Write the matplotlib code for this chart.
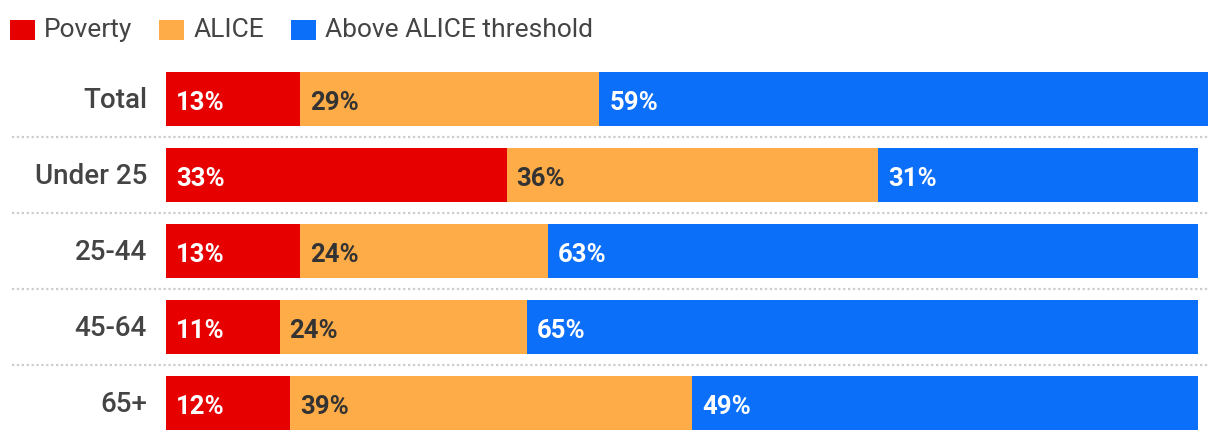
import matplotlib
matplotlib.use("Agg")
import matplotlib.pyplot as plt
from matplotlib.patches import Rectangle
from matplotlib.lines import Line2D
from matplotlib.transforms import blended_transform_factory

categories = ["Total", "Under 25", "25-44", "45-64", "65+"]
poverty = [13, 33, 13, 11, 12]
alice = [29, 36, 24, 24, 39]
above = [59, 31, 63, 65, 49]
series_names = ["Poverty", "ALICE", "Above ALICE threshold"]

colors = ["#E60000", "#FEAC47", "#0C6FFA"]
text_colors = ["white", "#333333", "white"]

plt.rcParams['font.family'] = ['Roboto', 'DejaVu Sans']

W, H = 1220, 440
fig = plt.figure(figsize=(W / 100, H / 100), dpi=100)
# axes: x 0..100 maps to px 166..1198 ; rows 76 px each starting at y=61
ax = fig.add_axes([166 / W, 1 - 441 / H, 1032 / W, 380 / H])
ax.set_xlim(0, 100)
ax.set_ylim(len(categories) - 0.5, -0.5)
ax.axis("off")

bar_h = 54 / 76
for i, cat in enumerate(categories):
    left = 0
    for s, vals in enumerate([poverty, alice, above]):
        v = vals[i]
        ax.barh(i, v, left=left, height=bar_h, color=colors[s], linewidth=0, clip_on=False)
        ax.annotate(f"{v}%", xy=(left, i), xytext=(10, -1), textcoords="offset pixels",
                    ha="left", va="center_baseline", fontsize=18.5, fontweight="bold",
                    color=text_colors[s], annotation_clip=False)
        left += v
    ax.annotate(cat, xy=(0, i), xytext=(-19, 2), textcoords="offset pixels",
                ha="right", va="center_baseline", fontsize=20, fontweight="medium",
                color="#444444", annotation_clip=False)

# dotted separators
tr = blended_transform_factory(fig.transFigure, ax.transData)
for i in range(len(categories) - 1):
    ln = Line2D([12 / W, 1208 / W], [i + 0.5, i + 0.5], transform=tr,
                color="#CCCCCC", linewidth=1.6, linestyle=(0, (1, 1.2)))
    fig.add_artist(ln)

# legend
x = 10
for s, name in enumerate(series_names):
    fig.add_artist(Rectangle((x / W, 1 - 40 / H), 25 / W, 20 / H,
                             transform=fig.transFigure, color=colors[s], linewidth=0))
    t = fig.text((x + 34) / W, 1 - 30 / H, name, fontsize=19, color="#444444",
                 ha="left", va="center")
    fig.canvas.draw()
    bb = t.get_window_extent()
    x = bb.x1 + 27

fig.savefig("out.png", dpi=100, facecolor="white")
